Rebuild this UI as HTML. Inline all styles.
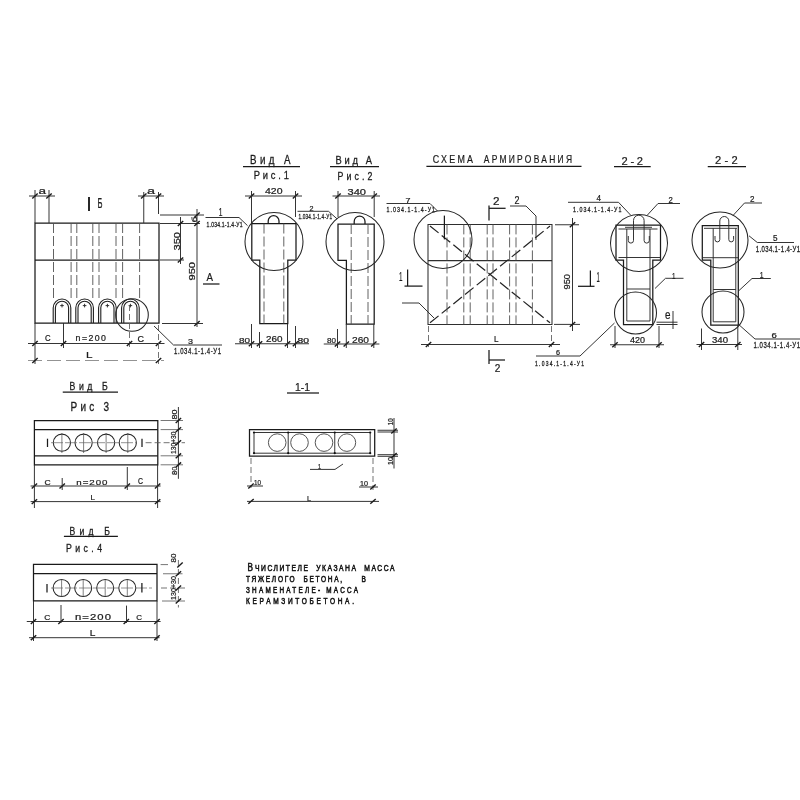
<!DOCTYPE html>
<html><head><meta charset="utf-8"><style>
html,body{margin:0;padding:0;background:#fff;width:800px;height:800px;overflow:hidden}
svg{display:block;will-change:transform}
.m{fill:none;stroke:#1a1a1a;stroke-width:1.25}
.m2{fill:none;stroke:#1e1e1e;stroke-width:1.1}
.t{fill:none;stroke:#262626;stroke-width:1.05}
.k{fill:none;stroke:#2a2a2a;stroke-width:0.95}
.dt{fill:none;stroke:#5a5a5a;stroke-width:0.85;stroke-dasharray:6 3}
.d{fill:none;stroke:#505050;stroke-width:0.9;stroke-dasharray:10 3}
.dd{fill:none;stroke:#222;stroke-width:1.2;stroke-dasharray:11 4}
.dl{fill:none;stroke:#777;stroke-width:0.8;stroke-dasharray:14 5}
.tk{fill:none;stroke:#1a1a1a;stroke-width:1.4}
.b{fill:none;stroke:#111;stroke-width:1.8}
.lt{fill:none;stroke:#555;stroke-width:0.75}
.lt2{fill:none;stroke:#666;stroke-width:0.7;stroke-dasharray:12 2}
.ci{fill:none;stroke:#555;stroke-width:1.0}
.ex{fill:none;stroke:#777;stroke-width:1.0}
.mo{fill:none;stroke:#2e2e2e;stroke-width:1.05}
.dot{fill:#111;stroke:none}
text{white-space:pre;font-family:"Liberation Sans",sans-serif;fill:#1c1c1c;stroke:#1c1c1c;stroke-width:0.22}
text.hd{stroke-width:0.3}
.sm{fill:#222;stroke:#222;stroke-width:0.3}
.nt{fill:#111;stroke:#111;stroke-width:0.55}
</style></head><body>
<svg width="800" height="800" viewBox="0 0 800 800">
<rect width="800" height="800" fill="#fff"/>
<path class="m" d="M35,223 H159 V323 H35 Z"/>
<line class="m" x1="35" y1="260" x2="159" y2="260"/>
<line class="d" x1="53.5" y1="223" x2="53.5" y2="300"/>
<line class="d" x1="71.1" y1="223" x2="71.1" y2="300"/>
<line class="d" x1="76.8" y1="223" x2="76.8" y2="300"/>
<line class="d" x1="92.8" y1="223" x2="92.8" y2="300"/>
<line class="d" x1="99" y1="223" x2="99" y2="300"/>
<line class="d" x1="116" y1="223" x2="116" y2="300"/>
<line class="d" x1="122.6" y1="223" x2="122.6" y2="300"/>
<line class="d" x1="139.6" y1="223" x2="139.6" y2="300"/>
<path class="m2" d="M53.2,323 V307.8 A8.8,8.8 0 0 1 70.8,307.8 V323"/>
<path class="m2" d="M55.4,323 V307.8 A6.6,6.6 0 0 1 68.6,307.8 V323"/>
<line class="k" x1="60.2" y1="305.6" x2="63.8" y2="305.6"/>
<line class="k" x1="62" y1="303.8" x2="62" y2="307.4"/>
<path class="m2" d="M75.8,323 V307.8 A8.8,8.8 0 0 1 93.4,307.8 V323"/>
<path class="m2" d="M78,323 V307.8 A6.6,6.6 0 0 1 91.2,307.8 V323"/>
<line class="k" x1="82.8" y1="305.6" x2="86.4" y2="305.6"/>
<line class="k" x1="84.6" y1="303.8" x2="84.6" y2="307.4"/>
<path class="m2" d="M98.6,323 V307.8 A8.8,8.8 0 0 1 116.2,307.8 V323"/>
<path class="m2" d="M100.8,323 V307.8 A6.6,6.6 0 0 1 114,307.8 V323"/>
<line class="k" x1="105.6" y1="305.6" x2="109.2" y2="305.6"/>
<line class="k" x1="107.4" y1="303.8" x2="107.4" y2="307.4"/>
<path class="m2" d="M121.6,323 V307.8 A8.8,8.8 0 0 1 139.2,307.8 V323"/>
<path class="m2" d="M123.8,323 V307.8 A6.6,6.6 0 0 1 137,307.8 V323"/>
<line class="k" x1="128.6" y1="305.6" x2="132.2" y2="305.6"/>
<line class="k" x1="130.4" y1="303.8" x2="130.4" y2="307.4"/>
<circle class="t" cx="132" cy="315" r="16.3"/>
<line class="dt" x1="129.5" y1="305" x2="129.5" y2="347"/>
<line class="k" x1="35" y1="190" x2="35" y2="223"/>
<line class="k" x1="49" y1="190" x2="49" y2="223"/>
<line class="k" x1="29" y1="196" x2="55" y2="196"/>
<line class="tk" x1="32.3" y1="198.43" x2="37.7" y2="193.57"/>
<line class="tk" x1="46.3" y1="198.43" x2="51.7" y2="193.57"/>
<text class="tx" x="38.5" y="194" font-size="8.49" textLength="7.5" lengthAdjust="spacingAndGlyphs">a</text>
<line class="k" x1="143.75" y1="192" x2="143.75" y2="223"/>
<line class="k" x1="158.5" y1="192" x2="158.5" y2="214"/>
<line class="k" x1="138" y1="196" x2="164" y2="196"/>
<line class="tk" x1="141.05" y1="198.43" x2="146.45" y2="193.57"/>
<line class="tk" x1="155.8" y1="198.43" x2="161.2" y2="193.57"/>
<text class="tx" x="147" y="194" font-size="8.49" textLength="8" lengthAdjust="spacingAndGlyphs">a</text>
<line class="b" x1="89" y1="197" x2="89" y2="211"/>
<text class="tx" x="97.5" y="207.5" font-size="14.58" textLength="5" lengthAdjust="spacingAndGlyphs">Б</text>
<line class="k" x1="160" y1="215" x2="204" y2="215"/>
<line class="k" x1="160" y1="223.5" x2="200" y2="223.5"/>
<line class="k" x1="197" y1="209" x2="197" y2="327"/>
<line class="tk" x1="194.3" y1="217.43" x2="199.7" y2="212.57"/>
<line class="tk" x1="194.3" y1="225.93" x2="199.7" y2="221.07"/>
<line class="tk" x1="194.3" y1="325.93" x2="199.7" y2="321.07"/>
<text class="tx" x="0" y="0" font-size="7.33" textLength="6" lengthAdjust="spacingAndGlyphs" transform="translate(196.5,222.5) rotate(-90)">б</text>
<line class="k" x1="180.5" y1="217" x2="180.5" y2="264"/>
<line class="tk" x1="177.8" y1="225.93" x2="183.2" y2="221.07"/>
<line class="tk" x1="177.8" y1="262.43" x2="183.2" y2="257.57"/>
<line class="k" x1="160" y1="260" x2="184" y2="260"/>
<text class="tx" x="0" y="0" font-size="9.72" textLength="18.5" lengthAdjust="spacingAndGlyphs" transform="translate(179.5,250.5) rotate(-90)">350</text>
<text class="tx" x="0" y="0" font-size="8.33" textLength="18.5" lengthAdjust="spacingAndGlyphs" transform="translate(194.5,280.5) rotate(-90)">950</text>
<text class="tx" x="206.5" y="281" font-size="11.81" textLength="6.5" lengthAdjust="spacingAndGlyphs">А</text>
<line class="m" x1="203" y1="284" x2="219.5" y2="284"/>
<line class="k" x1="162" y1="323.5" x2="203" y2="323.5"/>
<path class="k" d="M205.5,217.5 H239 L247.5,225.6"/>
<text class="tx" x="218.8" y="216" font-size="10" textLength="3.7" lengthAdjust="spacingAndGlyphs">1</text>
<text class="sm" x="0" y="0" font-size="7.5" textLength="53.81" lengthAdjust="spacing" transform="translate(206.5,226.8) scale(0.669,1)">1.034.1-1.4-У1</text>
<line class="k" x1="28" y1="343.5" x2="164.5" y2="343.5"/>
<line class="tk" x1="32.3" y1="345.93" x2="37.7" y2="341.07"/>
<line class="tk" x1="60.8" y1="345.93" x2="66.2" y2="341.07"/>
<line class="tk" x1="126.8" y1="345.93" x2="132.2" y2="341.07"/>
<line class="tk" x1="155.8" y1="345.93" x2="161.2" y2="341.07"/>
<line class="k" x1="35" y1="323" x2="35" y2="364"/>
<line class="k" x1="63.5" y1="323" x2="63.5" y2="348"/>
<line class="dt" x1="158.5" y1="325" x2="158.5" y2="364"/>
<text class="tx" x="45" y="341" font-size="8.33" textLength="5.6" lengthAdjust="spacingAndGlyphs">С</text>
<text class="tx" x="0" y="0" font-size="8.33" textLength="28.95" lengthAdjust="spacing" transform="translate(75.6,341) scale(1.05,1)">n=200</text>
<text class="tx" x="137.5" y="342" font-size="9.03" textLength="6.5" lengthAdjust="spacingAndGlyphs">С</text>
<line class="dl" x1="28" y1="360.5" x2="164" y2="360.5"/>
<line class="tk" x1="32.3" y1="362.93" x2="37.7" y2="358.07"/>
<line class="tk" x1="155.8" y1="362.93" x2="161.2" y2="358.07"/>
<text class="tx" x="86" y="357.5" font-size="9.03" textLength="6.5" lengthAdjust="spacingAndGlyphs">L</text>
<path class="k" d="M154,326 L173.5,345 H222"/>
<text class="tx" x="188" y="344" font-size="7.64" textLength="5" lengthAdjust="spacingAndGlyphs">3</text>
<text class="sm" x="0" y="0" font-size="8.33" textLength="65.28" lengthAdjust="spacing" transform="translate(174,354) scale(0.72,1)">1.034.1-1.4-У1</text>
<text class="hd" x="0" y="0" font-size="12.22" textLength="50.75" lengthAdjust="spacing" transform="translate(250,164.4) scale(0.8,1)">Вид А</text>
<line class="m" x1="243" y1="166.6" x2="300" y2="166.6"/>
<text class="hd" x="0" y="0" font-size="11.67" textLength="44.06" lengthAdjust="spacing" transform="translate(253.75,179.4) scale(0.8,1)">Рис.1</text>
<text class="tx" x="265" y="194.4" font-size="8.89" textLength="17.5" lengthAdjust="spacingAndGlyphs">420</text>
<line class="k" x1="245" y1="196" x2="302" y2="196"/>
<line class="tk" x1="248.8" y1="198.43" x2="254.2" y2="193.57"/>
<line class="tk" x1="292.8" y1="198.43" x2="298.2" y2="193.57"/>
<line class="k" x1="251.5" y1="191" x2="251.5" y2="223"/>
<line class="k" x1="295.5" y1="191" x2="295.5" y2="217"/>
<path class="m" d="M251.8,223.5 H296 V260 H287.8 V323.5 H259.8 V260 H251.8 Z"/>
<path class="m" d="M268.2,223.5 V221 A5.4,5.4 0 0 1 279,221 V223.5"/>
<line class="d" x1="264" y1="223.5" x2="264" y2="323.5"/>
<line class="d" x1="283.8" y1="223.5" x2="283.8" y2="323.5"/>
<circle class="t" cx="274" cy="241.5" r="29"/>
<line class="k" x1="235" y1="343.75" x2="309" y2="343.75"/>
<line class="tk" x1="248.8" y1="346.18" x2="254.2" y2="341.32"/>
<line class="tk" x1="256.8" y1="346.18" x2="262.2" y2="341.32"/>
<line class="tk" x1="284.8" y1="346.18" x2="290.2" y2="341.32"/>
<line class="tk" x1="292.8" y1="346.18" x2="298.2" y2="341.32"/>
<line class="k" x1="251.5" y1="324" x2="251.5" y2="348"/>
<line class="k" x1="259.5" y1="332" x2="259.5" y2="348"/>
<line class="k" x1="287.5" y1="324" x2="287.5" y2="348"/>
<line class="k" x1="295.5" y1="326" x2="295.5" y2="348"/>
<text class="tx" x="239" y="342.5" font-size="7.64" textLength="11" lengthAdjust="spacingAndGlyphs">80</text>
<text class="tx" x="266" y="342" font-size="8.33" textLength="16.5" lengthAdjust="spacingAndGlyphs">260</text>
<text class="tx" x="297.5" y="342.5" font-size="6.94" textLength="11.5" lengthAdjust="spacingAndGlyphs">80</text>
<path class="k" d="M297.5,211.3 H328.5 L337,218.8"/>
<text class="tx" x="309.5" y="210.5" font-size="6.94" textLength="4" lengthAdjust="spacingAndGlyphs">2</text>
<text class="sm" x="0" y="0" font-size="7.36" textLength="52.83" lengthAdjust="spacing" transform="translate(298.4,218.6) scale(0.636,1)">1.034.1-1.4-У1</text>
<text class="hd" x="0" y="0" font-size="11.67" textLength="45.5" lengthAdjust="spacing" transform="translate(335.6,164.4) scale(0.8,1)">Вид А</text>
<line class="m" x1="330" y1="166.5" x2="379" y2="166.5"/>
<text class="hd" x="0" y="0" font-size="10.97" textLength="43.75" lengthAdjust="spacing" transform="translate(337.5,180.4) scale(0.8,1)">Рис.2</text>
<text class="tx" x="347.5" y="195" font-size="8.33" textLength="18.5" lengthAdjust="spacingAndGlyphs">340</text>
<line class="k" x1="332.5" y1="196" x2="380" y2="196"/>
<line class="tk" x1="335.3" y1="198.43" x2="340.7" y2="193.57"/>
<line class="tk" x1="371.5" y1="198.43" x2="376.9" y2="193.57"/>
<line class="k" x1="338" y1="191" x2="338" y2="217"/>
<line class="k" x1="374.2" y1="191" x2="374.2" y2="217"/>
<path class="m" d="M338,224 H374.2 V324 H346.4 V260.3 H338 Z"/>
<path class="m" d="M354.2,224 V221.5 A5.4,5.4 0 0 1 365,221.5 V224"/>
<line class="d" x1="351.2" y1="224" x2="351.2" y2="324"/>
<line class="d" x1="368" y1="224" x2="368" y2="324"/>
<circle class="t" cx="355" cy="241.5" r="29"/>
<line class="k" x1="323.75" y1="344" x2="379.4" y2="344"/>
<line class="tk" x1="334.8" y1="346.43" x2="340.2" y2="341.57"/>
<line class="tk" x1="343.6" y1="346.43" x2="349" y2="341.57"/>
<line class="tk" x1="371.1" y1="346.43" x2="376.5" y2="341.57"/>
<line class="k" x1="337.5" y1="329" x2="337.5" y2="348"/>
<line class="k" x1="346.3" y1="324" x2="346.3" y2="348"/>
<line class="k" x1="373.8" y1="324" x2="373.8" y2="348"/>
<text class="tx" x="327" y="342.5" font-size="7.64" textLength="9" lengthAdjust="spacingAndGlyphs">80</text>
<text class="tx" x="352" y="342.5" font-size="9.03" textLength="17" lengthAdjust="spacingAndGlyphs">260</text>
<text class="tx" x="0" y="0" font-size="11.11" textLength="50.31" lengthAdjust="spacing" transform="translate(432.75,163.4) scale(0.8,1)">СХЕМА</text>
<text class="tx" x="0" y="0" font-size="10.56" textLength="110.31" lengthAdjust="spacing" transform="translate(483.75,163.4) scale(0.8,1)">АРМИРОВАНИЯ</text>
<line class="m" x1="426.4" y1="166.3" x2="581.5" y2="166.3"/>
<path class="mo" d="M428,224.4 H552 V324.4 H428 Z"/>
<line class="mo" x1="428" y1="260.6" x2="552" y2="260.6"/>
<line class="dd" x1="430" y1="226" x2="550" y2="322.8"/>
<line class="dd" x1="430" y1="322.8" x2="550" y2="226"/>
<line class="d" x1="447" y1="224.4" x2="447" y2="324.4"/>
<line class="d" x1="463.8" y1="224.4" x2="463.8" y2="324.4"/>
<line class="d" x1="470.2" y1="224.4" x2="470.2" y2="324.4"/>
<line class="d" x1="487.2" y1="224.4" x2="487.2" y2="324.4"/>
<line class="d" x1="493" y1="224.4" x2="493" y2="324.4"/>
<line class="d" x1="509.6" y1="224.4" x2="509.6" y2="324.4"/>
<line class="d" x1="516" y1="224.4" x2="516" y2="324.4"/>
<line class="d" x1="532.4" y1="224.4" x2="532.4" y2="324.4"/>
<line class="m" x1="444.4" y1="215.6" x2="444.4" y2="239.4"/>
<circle class="t" cx="443" cy="239.4" r="29"/>
<path class="k" d="M386.5,203.5 H430 L437.5,211"/>
<text class="tx" x="405.5" y="202.5" font-size="7.64" textLength="5" lengthAdjust="spacingAndGlyphs">7</text>
<text class="sm" x="0" y="0" font-size="7.36" textLength="67.22" lengthAdjust="spacing" transform="translate(386.6,212.3) scale(0.72,1)">1.034.1-1.4-У1</text>
<line class="m" x1="489" y1="205.5" x2="489" y2="220.6"/>
<line class="m" x1="489" y1="208.3" x2="505.6" y2="208.3"/>
<text class="tx" x="493" y="205" font-size="11.11" textLength="6.5" lengthAdjust="spacingAndGlyphs">2</text>
<line class="m" x1="489" y1="350" x2="489" y2="364"/>
<line class="m" x1="489" y1="360" x2="505" y2="360"/>
<text class="tx" x="494.7" y="371.5" font-size="11.81" textLength="5.6" lengthAdjust="spacingAndGlyphs">2</text>
<path class="k" d="M510,206 H526 L536,216 V240"/>
<text class="tx" x="514.5" y="204.3" font-size="10.14" textLength="5" lengthAdjust="spacingAndGlyphs">2</text>
<text class="tx" x="399" y="280.8" font-size="12.22" textLength="3.5" lengthAdjust="spacingAndGlyphs">1</text>
<line class="m" x1="407.6" y1="269.5" x2="407.6" y2="286.1"/>
<line class="m" x1="404.5" y1="286.1" x2="422.5" y2="286.1"/>
<path class="k" d="M402,303 H419 L434,318"/>
<line class="dt" x1="428.5" y1="326" x2="428.5" y2="347"/>
<line class="dt" x1="551.5" y1="326" x2="551.5" y2="347"/>
<line class="k" x1="421" y1="344.5" x2="560" y2="344.5"/>
<line class="tk" x1="425.8" y1="346.93" x2="431.2" y2="342.07"/>
<line class="tk" x1="548.8" y1="346.93" x2="554.2" y2="342.07"/>
<text class="tx" x="494" y="342" font-size="8.33" textLength="4.5" lengthAdjust="spacingAndGlyphs">L</text>
<line class="k" x1="555" y1="224.75" x2="579" y2="224.75"/>
<line class="k" x1="554" y1="324.4" x2="580" y2="324.4"/>
<line class="k" x1="572.5" y1="218" x2="572.5" y2="331"/>
<line class="tk" x1="569.8" y1="227.18" x2="575.2" y2="222.32"/>
<line class="tk" x1="569.8" y1="326.83" x2="575.2" y2="321.97"/>
<text class="tx" x="0" y="0" font-size="8.33" textLength="15.5" lengthAdjust="spacingAndGlyphs" transform="translate(570,289.5) rotate(-90)">950</text>
<path class="k" d="M536,356 H580 L614.5,323"/>
<text class="tx" x="556" y="354.5" font-size="6.94" textLength="4" lengthAdjust="spacingAndGlyphs">6</text>
<text class="sm" x="0" y="0" font-size="6.94" textLength="68.06" lengthAdjust="spacing" transform="translate(535,366) scale(0.72,1)">1.034.1-1.4-У1</text>
<text class="tx" x="621.5" y="164.5" font-size="11.11" textLength="21.5" lengthAdjust="spacing">2 - 2</text>
<line class="m" x1="614" y1="166.5" x2="650.7" y2="166.5"/>
<path class="k" d="M568,202.3 H618.5 L631,215.5"/>
<text class="tx" x="596.5" y="200.5" font-size="9.03" textLength="4.5" lengthAdjust="spacingAndGlyphs">4</text>
<text class="sm" x="0" y="0" font-size="7.36" textLength="67.36" lengthAdjust="spacing" transform="translate(573,211.8) scale(0.72,1)">1.034.1-1.4-У1</text>
<path class="k" d="M647,215.5 L658,203.5 H680"/>
<text class="tx" x="668.5" y="202.5" font-size="8.33" textLength="4.3" lengthAdjust="spacingAndGlyphs">2</text>
<path class="m" d="M616,225 H660.5 V260 H652.8 V324.5 H623.5 V260 H616 Z"/>
<line class="k" x1="618.5" y1="229" x2="657.5" y2="229"/>
<line class="k" x1="625" y1="227.3" x2="652" y2="227.3"/>
<line class="k" x1="626.8" y1="229" x2="626.8" y2="321"/>
<line class="k" x1="650" y1="229" x2="650" y2="321"/>
<line class="k" x1="618.5" y1="257.5" x2="660" y2="257.5"/>
<line class="k" x1="626.8" y1="289" x2="650" y2="289"/>
<line class="k" x1="626.8" y1="321" x2="650" y2="321"/>
<path class="k" d="M628.3,236 V240.5 A2.6,2.6 0 0 0 633.5,240.5 V220.5 A5.3,5.3 0 0 1 644.1,220.5 V240.5 A2.6,2.6 0 0 0 649.3,240.5 V236"/>
<circle class="t" cx="639" cy="243" r="28.5"/>
<circle class="t" cx="635.5" cy="313" r="21"/>
<path class="k" d="M683.5,278.3 H665.5 L655,288.5"/>
<text class="tx" x="672" y="278.5" font-size="9.72" textLength="3.5" lengthAdjust="spacingAndGlyphs">1</text>
<line class="k" x1="656.5" y1="322.2" x2="677.5" y2="322.2"/>
<line class="k" x1="656.5" y1="324.5" x2="677.5" y2="324.5"/>
<line class="k" x1="673" y1="311" x2="673" y2="329"/>
<text class="tx" x="665" y="319.2" font-size="12.64" textLength="5.5" lengthAdjust="spacingAndGlyphs">е</text>
<line class="k" x1="615" y1="326" x2="615" y2="348"/>
<line class="k" x1="659" y1="326" x2="659" y2="348"/>
<line class="k" x1="610" y1="344.75" x2="664" y2="344.75"/>
<line class="tk" x1="612.3" y1="347.18" x2="617.7" y2="342.32"/>
<line class="tk" x1="656.3" y1="347.18" x2="661.7" y2="342.32"/>
<text class="tx" x="630" y="342.5" font-size="8.33" textLength="15" lengthAdjust="spacingAndGlyphs">420</text>
<text class="tx" x="596.5" y="281.5" font-size="14.58" textLength="3.3" lengthAdjust="spacingAndGlyphs">1</text>
<line class="m" x1="590.4" y1="270.5" x2="590.4" y2="286.3"/>
<line class="m" x1="578" y1="286.3" x2="594.5" y2="286.3"/>
<text class="tx" x="715" y="164" font-size="11.11" textLength="22.75" lengthAdjust="spacing">2 - 2</text>
<line class="m" x1="707.75" y1="166.5" x2="746" y2="166.5"/>
<path class="k" d="M762,203 H744.5 L733,215.5"/>
<text class="tx" x="750" y="202.3" font-size="8.75" textLength="4.5" lengthAdjust="spacingAndGlyphs">2</text>
<path class="m" d="M702.3,225.7 H738.3 V325 H710.8 V260 H702.3 Z"/>
<line class="k" x1="704" y1="228.3" x2="737" y2="228.3"/>
<line class="k" x1="713.2" y1="228.3" x2="713.2" y2="321.8"/>
<line class="k" x1="735.8" y1="228.3" x2="735.8" y2="321.8"/>
<line class="k" x1="702.3" y1="257.7" x2="738.3" y2="257.7"/>
<line class="k" x1="713.2" y1="289.5" x2="735.8" y2="289.5"/>
<line class="k" x1="713.2" y1="321.8" x2="735.8" y2="321.8"/>
<path class="k" d="M715,236 V239.5 A2.4,2.4 0 0 0 719.8,239.5 V221 A4.5,4.5 0 0 1 728.8,221 V239.5 A2.4,2.4 0 0 0 733.6,239.5 V236"/>
<circle class="t" cx="720" cy="240" r="28"/>
<circle class="t" cx="723" cy="312" r="21"/>
<path class="k" d="M749,235.8 L757.3,242.5 H794"/>
<text class="tx" x="773" y="241" font-size="8.33" textLength="4.5" lengthAdjust="spacingAndGlyphs">5</text>
<text class="sm" x="0" y="0" font-size="8.33" textLength="61.46" lengthAdjust="spacing" transform="translate(755.75,251.5) scale(0.72,1)">1.034.1-1.4-У1</text>
<path class="k" d="M770.8,278.5 H752 L738.5,291"/>
<text class="tx" x="759.7" y="277.5" font-size="9.72" textLength="3.8" lengthAdjust="spacingAndGlyphs">1</text>
<path class="k" d="M739,324.8 L755,339 H800"/>
<text class="tx" x="771.5" y="337.5" font-size="7.64" textLength="5.3" lengthAdjust="spacingAndGlyphs">6</text>
<text class="sm" x="0" y="0" font-size="8.33" textLength="64.58" lengthAdjust="spacing" transform="translate(753.5,348) scale(0.72,1)">1.034.1-1.4-У1</text>
<line class="k" x1="701.5" y1="328.5" x2="701.5" y2="350"/>
<line class="k" x1="737.8" y1="325" x2="737.8" y2="350"/>
<line class="k" x1="696.5" y1="344.5" x2="742" y2="344.5"/>
<line class="tk" x1="698.8" y1="346.93" x2="704.2" y2="342.07"/>
<line class="tk" x1="735.1" y1="346.93" x2="740.5" y2="342.07"/>
<text class="tx" x="712" y="342.8" font-size="8.33" textLength="16" lengthAdjust="spacingAndGlyphs">340</text>
<text class="hd" x="0" y="0" font-size="10.9" textLength="47.81" lengthAdjust="spacing" transform="translate(69.5,390.25) scale(0.8,1)">Вид Б</text>
<line class="m" x1="62.75" y1="392" x2="118" y2="392"/>
<text class="hd" x="0" y="0" font-size="12.5" textLength="48" lengthAdjust="spacing" transform="translate(70.6,410.5) scale(0.8,1)">Рис 3</text>
<path class="m" d="M34.4,420.5 H157.8 V464.8 H34.4 Z"/>
<line class="m" x1="34.4" y1="429.6" x2="157.8" y2="429.6"/>
<line class="m" x1="34.4" y1="455.8" x2="157.8" y2="455.8"/>
<circle class="t" cx="61.9" cy="442.7" r="8.6"/>
<line class="lt" x1="61.9" y1="433" x2="61.9" y2="453"/>
<circle class="t" cx="83.6" cy="442.7" r="8.6"/>
<line class="lt" x1="83.6" y1="433" x2="83.6" y2="453"/>
<circle class="t" cx="106.1" cy="442.7" r="8.6"/>
<line class="lt" x1="106.1" y1="433" x2="106.1" y2="453"/>
<circle class="t" cx="127.8" cy="442.7" r="8.6"/>
<line class="lt" x1="127.8" y1="433" x2="127.8" y2="453"/>
<line class="lt2" x1="51" y1="442.7" x2="137" y2="442.7"/>
<line class="m" x1="47.5" y1="438.7" x2="47.5" y2="447"/>
<line class="m" x1="142" y1="438.7" x2="142" y2="447"/>
<line class="dt" x1="145.6" y1="442.7" x2="185" y2="442.7"/>
<line class="k" x1="178.4" y1="407" x2="178.4" y2="478.8"/>
<line class="ex" x1="160.6" y1="420.5" x2="183" y2="420.5"/>
<line class="tk" x1="175.7" y1="422.93" x2="181.1" y2="418.07"/>
<line class="ex" x1="160.6" y1="429.6" x2="183" y2="429.6"/>
<line class="tk" x1="175.7" y1="432.03" x2="181.1" y2="427.17"/>
<line class="ex" x1="160.6" y1="455.8" x2="183" y2="455.8"/>
<line class="tk" x1="175.7" y1="458.23" x2="181.1" y2="453.37"/>
<line class="ex" x1="160.6" y1="464.8" x2="183" y2="464.8"/>
<line class="tk" x1="175.7" y1="467.23" x2="181.1" y2="462.37"/>
<line class="tk" x1="175.7" y1="445.13" x2="181.1" y2="440.27"/>
<text class="tx" x="0" y="0" font-size="7.64" textLength="10" lengthAdjust="spacingAndGlyphs" transform="translate(176.5,419.5) rotate(-90)">80</text>
<text class="tx" x="0" y="0" font-size="6.53" textLength="22.5" lengthAdjust="spacingAndGlyphs" transform="translate(175.5,454) rotate(-90)">130+30</text>
<text class="tx" x="0" y="0" font-size="7.22" textLength="8.5" lengthAdjust="spacingAndGlyphs" transform="translate(176.5,475) rotate(-90)">80</text>
<line class="k" x1="30.6" y1="486" x2="160.6" y2="486"/>
<line class="tk" x1="31.7" y1="488.43" x2="37.1" y2="483.57"/>
<line class="tk" x1="59.5" y1="488.43" x2="64.9" y2="483.57"/>
<line class="tk" x1="124.6" y1="488.43" x2="130" y2="483.57"/>
<line class="tk" x1="154.9" y1="488.43" x2="160.3" y2="483.57"/>
<line class="k" x1="34.4" y1="465" x2="34.4" y2="508"/>
<line class="k" x1="157.6" y1="465" x2="157.6" y2="508"/>
<line class="k" x1="62.2" y1="478" x2="62.2" y2="490"/>
<line class="k" x1="127.3" y1="467" x2="127.3" y2="490"/>
<text class="tx" x="44.4" y="484.6" font-size="7.22" textLength="6.2" lengthAdjust="spacingAndGlyphs">С</text>
<text class="tx" x="0" y="0" font-size="8.13" textLength="26.04" lengthAdjust="spacing" transform="translate(76.25,484.6) scale(1.2,1)">n=200</text>
<text class="tx" x="138" y="484" font-size="8.33" textLength="5" lengthAdjust="spacingAndGlyphs">С</text>
<line class="k" x1="30.6" y1="501.6" x2="160.6" y2="501.6"/>
<line class="tk" x1="31.7" y1="504.03" x2="37.1" y2="499.17"/>
<line class="tk" x1="154.9" y1="504.03" x2="160.3" y2="499.17"/>
<text class="tx" x="90.6" y="499.6" font-size="7.08" textLength="4.4" lengthAdjust="spacingAndGlyphs">L</text>
<text class="tx" x="295" y="391" font-size="11.11" textLength="15" lengthAdjust="spacingAndGlyphs">1-1</text>
<line class="m" x1="287" y1="393" x2="319" y2="393"/>
<path class="m" d="M249.5,429.5 H374.7 V456.2 H249.5 Z"/>
<path class="k" d="M254,432.5 H370.2 V453.2 H254 Z"/>
<line class="k" x1="288.2" y1="432.5" x2="288.2" y2="453.2"/>
<line class="k" x1="334.75" y1="432.5" x2="334.75" y2="453.2"/>
<circle class="ci" cx="277.2" cy="442.6" r="8.8"/>
<circle class="ci" cx="299.5" cy="442.6" r="8.8"/>
<circle class="ci" cx="324" cy="442.6" r="8.8"/>
<circle class="ci" cx="346.9" cy="442.6" r="8.8"/>
<circle class="dot" cx="254" cy="432.5" r="1.1"/>
<circle class="dot" cx="254" cy="453.2" r="1.1"/>
<circle class="dot" cx="288.2" cy="432.5" r="1.1"/>
<circle class="dot" cx="288.2" cy="453.2" r="1.1"/>
<circle class="dot" cx="334.75" cy="432.5" r="1.1"/>
<circle class="dot" cx="334.75" cy="453.2" r="1.1"/>
<circle class="dot" cx="370.2" cy="432.5" r="1.1"/>
<circle class="dot" cx="370.2" cy="453.2" r="1.1"/>
<path class="k" d="M310,469.4 H335 L343,464"/>
<text class="tx" x="318" y="468.5" font-size="7.64" textLength="3" lengthAdjust="spacingAndGlyphs">1</text>
<line class="dt" x1="251" y1="458" x2="251" y2="488"/>
<line class="dt" x1="373" y1="458" x2="373" y2="490"/>
<line class="k" x1="247" y1="486" x2="263" y2="486"/>
<line class="tk" x1="248.3" y1="488.43" x2="253.7" y2="483.57"/>
<text class="tx" x="254" y="485" font-size="6.94" textLength="7" lengthAdjust="spacingAndGlyphs">10</text>
<line class="k" x1="359" y1="487" x2="378" y2="487"/>
<line class="tk" x1="370.3" y1="489.43" x2="375.7" y2="484.57"/>
<text class="tx" x="360" y="486" font-size="6.94" textLength="8" lengthAdjust="spacingAndGlyphs">10</text>
<line class="k" x1="247" y1="501.4" x2="379" y2="501.4"/>
<line class="tk" x1="248.3" y1="503.83" x2="253.7" y2="498.97"/>
<line class="tk" x1="370.3" y1="503.83" x2="375.7" y2="498.97"/>
<text class="tx" x="307" y="500.5" font-size="7.64" textLength="4" lengthAdjust="spacingAndGlyphs">L</text>
<line class="k" x1="377.5" y1="430.25" x2="398" y2="430.25"/>
<line class="k" x1="377.5" y1="432" x2="398" y2="432"/>
<line class="k" x1="377.5" y1="454.7" x2="398" y2="454.7"/>
<line class="k" x1="377.5" y1="456.3" x2="398" y2="456.3"/>
<line class="k" x1="394" y1="418" x2="394" y2="468.5"/>
<line class="tk" x1="391.3" y1="433.43" x2="396.7" y2="428.57"/>
<line class="tk" x1="391.3" y1="457.93" x2="396.7" y2="453.07"/>
<text class="tx" x="0" y="0" font-size="6.94" textLength="6.8" lengthAdjust="spacingAndGlyphs" transform="translate(393,425.2) rotate(-90)">10</text>
<text class="tx" x="0" y="0" font-size="6.94" textLength="8" lengthAdjust="spacingAndGlyphs" transform="translate(393,465) rotate(-90)">10</text>
<text class="hd" x="0" y="0" font-size="10.76" textLength="50.62" lengthAdjust="spacing" transform="translate(69.5,534.75) scale(0.8,1)">Вид Б</text>
<line class="m" x1="63.9" y1="536.3" x2="117.9" y2="536.3"/>
<text class="hd" x="0" y="0" font-size="10.9" textLength="45" lengthAdjust="spacing" transform="translate(66,551.6) scale(0.8,1)">Рис.4</text>
<path class="m" d="M33.5,564.4 H157 V600.9 H33.5 Z"/>
<line class="m" x1="33.5" y1="573.5" x2="157" y2="573.5"/>
<circle class="t" cx="61.6" cy="588" r="8.5"/>
<line class="lt" x1="61.6" y1="579.5" x2="61.6" y2="596.5"/>
<circle class="t" cx="83.2" cy="588" r="8.5"/>
<line class="lt" x1="83.2" y1="579.5" x2="83.2" y2="596.5"/>
<circle class="t" cx="105.2" cy="588" r="8.5"/>
<line class="lt" x1="105.2" y1="579.5" x2="105.2" y2="596.5"/>
<circle class="t" cx="127.3" cy="588" r="8.5"/>
<line class="lt" x1="127.3" y1="579.5" x2="127.3" y2="596.5"/>
<line class="lt2" x1="51" y1="588" x2="152" y2="588"/>
<line class="m" x1="47" y1="584" x2="47" y2="592.5"/>
<line class="m" x1="141.9" y1="583" x2="141.9" y2="592.5"/>
<line class="ex" x1="160.6" y1="564.6" x2="168" y2="564.6"/>
<line class="ex" x1="163" y1="573.75" x2="182.5" y2="573.75"/>
<line class="dt" x1="161" y1="588" x2="185" y2="588"/>
<line class="ex" x1="162" y1="601" x2="185" y2="601"/>
<line class="dt" x1="178.4" y1="560" x2="178.4" y2="607.5"/>
<line class="tk" x1="177.3" y1="567.43" x2="182.7" y2="562.57"/>
<line class="tk" x1="175.7" y1="576.18" x2="181.1" y2="571.32"/>
<line class="tk" x1="175.7" y1="590.43" x2="181.1" y2="585.57"/>
<line class="tk" x1="175.7" y1="603.43" x2="181.1" y2="598.57"/>
<text class="tx" x="0" y="0" font-size="7.36" textLength="9" lengthAdjust="spacingAndGlyphs" transform="translate(176.3,562.5) rotate(-90)">80</text>
<text class="tx" x="0" y="0" font-size="7.08" textLength="24" lengthAdjust="spacingAndGlyphs" transform="translate(176.3,600) rotate(-90)">130+30</text>
<line class="k" x1="26.75" y1="621.5" x2="160.6" y2="621.5"/>
<line class="tk" x1="30.8" y1="623.93" x2="36.2" y2="619.07"/>
<line class="tk" x1="58.3" y1="623.93" x2="63.7" y2="619.07"/>
<line class="tk" x1="123.6" y1="623.93" x2="129" y2="619.07"/>
<line class="tk" x1="154.3" y1="623.93" x2="159.7" y2="619.07"/>
<line class="k" x1="33.5" y1="601" x2="33.5" y2="641"/>
<line class="k" x1="157" y1="601" x2="157" y2="641"/>
<line class="k" x1="61" y1="605" x2="61" y2="623"/>
<line class="k" x1="126.5" y1="605.6" x2="126.5" y2="623"/>
<text class="tx" x="44.3" y="620.3" font-size="7.92" textLength="6.1" lengthAdjust="spacingAndGlyphs">С</text>
<text class="tx" x="0" y="0" font-size="9.03" textLength="28.8" lengthAdjust="spacing" transform="translate(75,620.3) scale(1.25,1)">n=200</text>
<text class="tx" x="136.2" y="620" font-size="7.78" textLength="5.8" lengthAdjust="spacingAndGlyphs">С</text>
<line class="k" x1="29" y1="637.7" x2="159.5" y2="637.7"/>
<line class="tk" x1="30.8" y1="640.13" x2="36.2" y2="635.27"/>
<line class="tk" x1="154.3" y1="640.13" x2="159.7" y2="635.27"/>
<text class="tx" x="89.75" y="636" font-size="8.33" textLength="5.65" lengthAdjust="spacingAndGlyphs">L</text>
<text class="nt" x="247.5" y="570.5" font-size="10.42" textLength="5.5" lengthAdjust="spacingAndGlyphs">В</text>
<text class="nt" x="0" y="0" font-size="9.03" textLength="186" lengthAdjust="spacing" transform="translate(255,570.8) scale(0.75,1)">ЧИСЛИТЕЛЕ  УКАЗАНА  МАССА</text>
<text class="nt" x="0" y="0" font-size="8.75" textLength="160" lengthAdjust="spacing" transform="translate(246,581.6) scale(0.75,1)">ТЯЖЕЛОГО  БЕТОНА,     В</text>
<text class="nt" x="0" y="0" font-size="8.47" textLength="149.33" lengthAdjust="spacing" transform="translate(246,592.9) scale(0.75,1)">ЗНАМЕНАТЕЛЕ- МАССА</text>
<text class="nt" x="0" y="0" font-size="8.75" textLength="144" lengthAdjust="spacing" transform="translate(246,603.6) scale(0.75,1)">КЕРАМЗИТОБЕТОНА.</text>
</svg>
</body></html>
